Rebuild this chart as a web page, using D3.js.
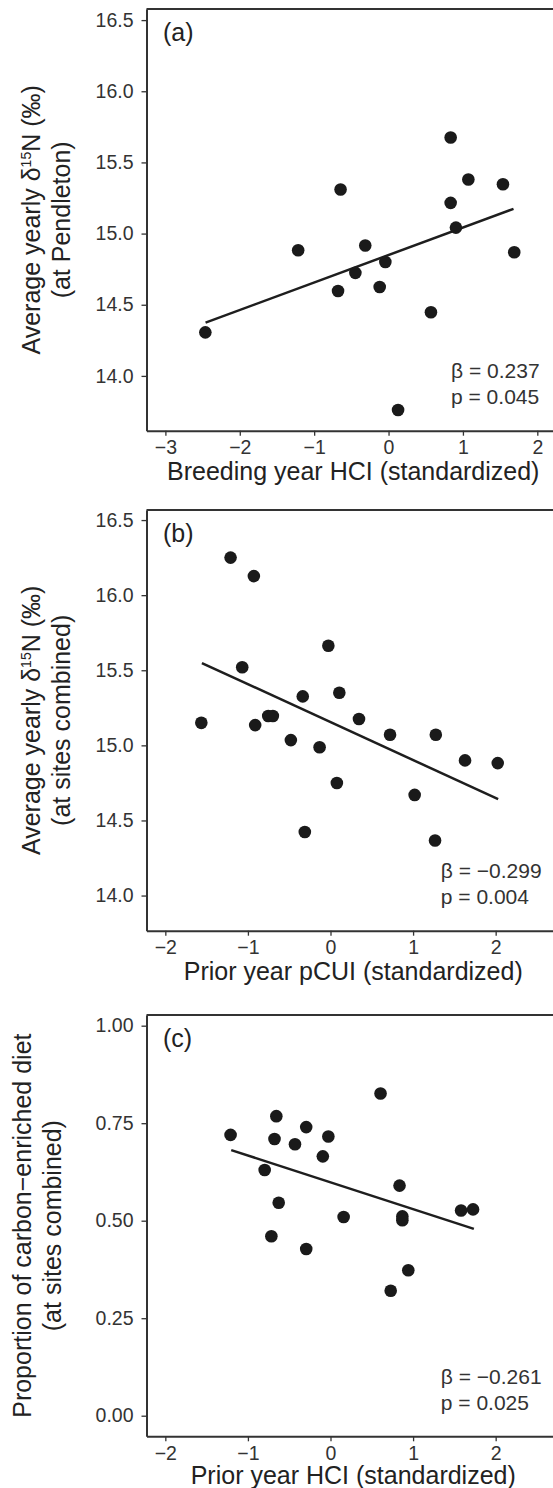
<!DOCTYPE html>
<html>
<head>
<meta charset="utf-8">
<script src="https://cdn.jsdelivr.net/npm/d3@7"></script>
<style>
  body { margin: 0; background: #fff; }
  svg { display: block; font-family: "Liberation Sans", Arial, Helvetica, sans-serif; }
</style>
</head>
<body>
<div id="chart"></div>
<script>
// panel (a): breeding year HCI vs d15N at Pendleton
var hciA  = [0.835, -0.645, 1.073, 1.538, 0.835, 0.906, -0.313, -1.215, 1.69, -0.043, -0.446, -0.679, -0.119, 0.57, -2.463, 0.128];
var d15nA = [15.675, 15.31, 15.38, 15.347, 15.216, 15.042, 14.916, 14.883, 14.869, 14.80, 14.724, 14.597, 14.625, 14.447, 14.306, 13.76];
var fitA  = {x: [-2.46, 1.68], y: [14.374, 15.174]};

// panel (b): prior year pCUI vs d15N, sites combined
var pcuiB = [-1.21, -0.928, -0.026, -1.069, -0.336, 0.107, -1.564, -0.912, -0.754, -0.698, 0.345, 0.721, 1.275, -0.48, -0.132, 1.629, 2.025, 0.077, 1.019, -0.311, 1.266];
var d15nB = [16.25, 16.127, 15.663, 15.52, 15.326, 15.35, 15.15, 15.135, 15.195, 15.195, 15.175, 15.071, 15.071, 15.035, 14.987, 14.90, 14.882, 14.749, 14.67, 14.423, 14.367];
var fitB  = {x: [-1.557, 2.03], y: [15.548, 14.642]};

// panel (c): prior year HCI vs proportion of carbon-enriched diet
var hciC  = [0.606, -0.656, -0.294, -1.21, -0.026, -0.678, -0.43, -0.093, -0.797, 0.836, -0.627, 1.726, 1.581, 0.159, 0.87, 0.87, -0.716, -0.294, 0.942, 0.729];
var propC = [0.826, 0.768, 0.740, 0.720, 0.716, 0.7095, 0.696, 0.665, 0.630, 0.590, 0.546, 0.529, 0.526, 0.5095, 0.511, 0.501, 0.46, 0.4274, 0.373, 0.3205];
var fitC  = {x: [-1.202, 1.736], y: [0.681, 0.479]};

var ticksXA = [-3, -2, -1, 0, 1, 2];
var ticksXB = [-2, -1, 0, 1, 2];
var ticksYN = [14.0, 14.5, 15.0, 15.5, 16.0, 16.5];
var ticksYP = [0, 0.25, 0.5, 0.75, 1];

var statsA = ["β = 0.237", "p = 0.045"];
var statsB = ["β = −0.299", "p = 0.004"];
var statsC = ["β = −0.261", "p = 0.025"];

var panels = [
  {tag: "(a)", x: hciA, y: d15nA, fit: fitA, xDom: [-3.254, 2.305], yDom: [13.615, 16.578],
   top: 9, bottom: 430.7, xt: ticksXA, yt: ticksYN, fmt: ".1f", stats: statsA, statX: 451,
   xTitle: "Breeding year HCI (standardized)", yLine2: "(at Pendleton)", yT: [40, 70], titleDy: 49},
  {tag: "(b)", x: pcuiB, y: d15nB, fit: fitB, xDom: [-2.228, 2.779], yDom: [13.766, 16.567],
   top: 510, bottom: 930.7, xt: ticksXB, yt: ticksYN, fmt: ".1f", stats: statsB, statX: 440.8,
   xTitle: "Prior year pCUI (standardized)", yLine2: "(at sites combined)", yT: [40, 70], titleDy: 49},
  {tag: "(c)", x: hciC, y: propC, fit: fitC, xDom: [-2.228, 2.779], yDom: [-0.0528, 1.0274],
   top: 1015, bottom: 1436.3, xt: ticksXB, yt: ticksYP, fmt: ".2f", stats: statsC, statX: 440.8,
   xTitle: "Prior year HCI (standardized)", yLine2: "(at sites combined)", yT: [31, 61], titleDy: 48, prop: true}
];

var width = 553, height = 1488;
var left = 146.5, right = 560;
var ink = "#333";

var svg = d3.select("#chart").append("svg")
    .attr("width", width)
    .attr("height", height);

panels.forEach(function(p){
    var x = d3.scaleLinear().domain(p.xDom).range([left, right]);
    var y = d3.scaleLinear().domain(p.yDom).range([p.bottom, p.top]);
    var g = svg.append("g");

    // top border (panel is cut off on the right)
    g.append("line")
        .attr("x1", left).attr("x2", right)
        .attr("y1", p.top).attr("y2", p.top)
        .attr("stroke", ink).attr("stroke-width", 2);

    var xAxis = g.append("g")
        .attr("transform", "translate(0," + p.bottom + ")")
        .call(d3.axisBottom(x).tickValues(p.xt).tickFormat(d3.format("d")).tickSize(5).tickSizeOuter(0).tickPadding(4.6));
    var yAxis = g.append("g")
        .attr("transform", "translate(" + left + ",0)")
        .call(d3.axisLeft(y).tickValues(p.yt).tickFormat(d3.format(p.fmt)).tickSize(5).tickSizeOuter(0).tickPadding(8));

    [xAxis, yAxis].forEach(function(a){
        a.select(".domain").attr("stroke", ink).attr("stroke-width", 2);
        a.selectAll(".tick line").attr("stroke", ink).attr("stroke-width", 1.3);
        a.selectAll(".tick text").attr("fill", ink).style("font-size", "19.5px");
    });

    // fitted line
    g.append("line")
        .attr("x1", x(p.fit.x[0])).attr("y1", y(p.fit.y[0]))
        .attr("x2", x(p.fit.x[1])).attr("y2", y(p.fit.y[1]))
        .attr("stroke", "#1e1e1e").attr("stroke-width", 2.5);

    g.selectAll("circle")
        .data(p.x.map(function(v, i){ return [v, p.y[i]]; }))
        .enter().append("circle")
        .attr("cx", function(d){ return x(d[0]); })
        .attr("cy", function(d){ return y(d[1]); })
        .attr("r", 6.3)
        .attr("fill", "#1a1a1a");

    g.append("text")
        .attr("x", 163).attr("y", p.top + 32)
        .attr("fill", "#222")
        .style("font-size", "25px")
        .text(p.tag);

    g.selectAll(".stat")
        .data(p.stats)
        .enter().append("text")
        .attr("class", "stat")
        .attr("x", p.statX)
        .attr("y", function(d, i){ return p.bottom - 52.5 + i * 25.7; })
        .attr("fill", ink)
        .style("font-size", "21px")
        .text(function(d){ return d; });

    g.append("text")
        .attr("x", (left + right) / 2)
        .attr("y", p.bottom + p.titleDy)
        .attr("text-anchor", "middle")
        .attr("fill", "#222")
        .style("font-size", "25px")
        .text(p.xTitle);

    var cy = (p.top + p.bottom) / 2;
    var t1 = g.append("text")
        .attr("transform", "translate(" + p.yT[0] + "," + cy + ") rotate(-90)")
        .attr("text-anchor", "middle")
        .attr("fill", "#222")
        .style("font-size", "25px");
    if (p.prop) {
        t1.text("Proportion of carbon\u2212enriched diet");
    } else {
        t1.append("tspan").text("Average yearly δ");
        t1.append("tspan").attr("dy", -9).style("font-size", "14px").text("15");
        t1.append("tspan").attr("dy", 9).text("N (‰)");
    }
    g.append("text")
        .attr("transform", "translate(" + p.yT[1] + "," + cy + ") rotate(-90)")
        .attr("text-anchor", "middle")
        .attr("fill", "#222")
        .style("font-size", "25px")
        .text(p.yLine2);
});
</script>
</body>
</html>
